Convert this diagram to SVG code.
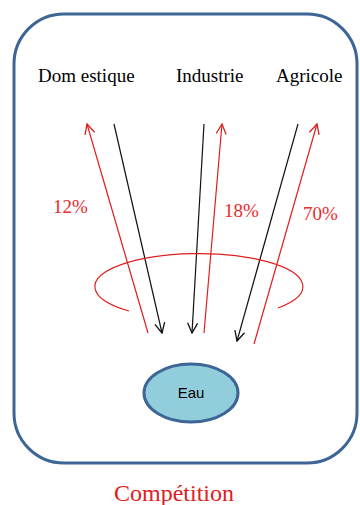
<svg xmlns="http://www.w3.org/2000/svg" width="360" height="505" viewBox="0 0 360 505">
<defs>
<marker id="ar" viewBox="0 0 12 12" refX="11" refY="6" markerWidth="12" markerHeight="12" markerUnits="userSpaceOnUse" orient="auto">
<path d="M1,1 L11,6 L1,11" fill="none" stroke="#e02020" stroke-width="1.3"/>
</marker>
<marker id="ab" viewBox="0 0 12 12" refX="11" refY="6" markerWidth="12" markerHeight="12" markerUnits="userSpaceOnUse" orient="auto">
<path d="M1,1 L11,6 L1,11" fill="none" stroke="#111" stroke-width="1.3"/>
</marker>
</defs>
<style>
text{font-family:"Liberation Serif","DejaVu Serif",serif}
.lbl{font-size:19px;fill:#000}
.pct{font-size:19px;fill:#ee2a2a}
.red{stroke:#e02020;stroke-width:1.2;fill:none}
.blk{stroke:#111;stroke-width:1.2;fill:none}
</style>
<g id="frame">
<rect x="14" y="14" width="343" height="449" rx="50" ry="50" fill="#fff" stroke="#3d6595" stroke-width="3"/>
</g>
<g id="domestique"><text class="lbl" x="38" y="82">Dom estique</text></g>
<g id="industrie"><text class="lbl" x="176" y="82">Industrie</text></g>
<g id="agricole"><text class="lbl" x="276" y="82">Agricole</text></g>
<g id="eau">
<ellipse cx="191" cy="393" rx="47" ry="29" fill="#92cddc" stroke="#3d6595" stroke-width="3"/>
<text x="191" y="398" text-anchor="middle" style="font-family:'Liberation Sans',Arial,sans-serif;font-size:15px" fill="#000">Eau</text>
</g>
<g id="connectors">
<line class="red" x1="148" y1="333" x2="87" y2="124" marker-end="url(#ar)"/>
<line class="blk" x1="114" y1="124" x2="162" y2="333" marker-end="url(#ab)"/>
<line class="blk" x1="204" y1="124" x2="192" y2="333" marker-end="url(#ab)"/>
<line class="red" x1="204" y1="333" x2="222" y2="124" marker-end="url(#ar)"/>
<line class="blk" x1="298" y1="124" x2="237" y2="341" marker-end="url(#ab)"/>
<line class="red" x1="254" y1="344" x2="317" y2="124" marker-end="url(#ar)"/>
<path class="red" d="M129 311 A104 33 0 1 1 278 308"/>
</g>
<g id="labels">
<text class="pct" x="53" y="213">12%</text>
<text class="pct" x="224" y="217">18%</text>
<text class="pct" x="303" y="220">70%</text>
<text x="174" y="501" text-anchor="middle" font-size="24" fill="#e02020">Compétition</text>
</g>
</svg>
